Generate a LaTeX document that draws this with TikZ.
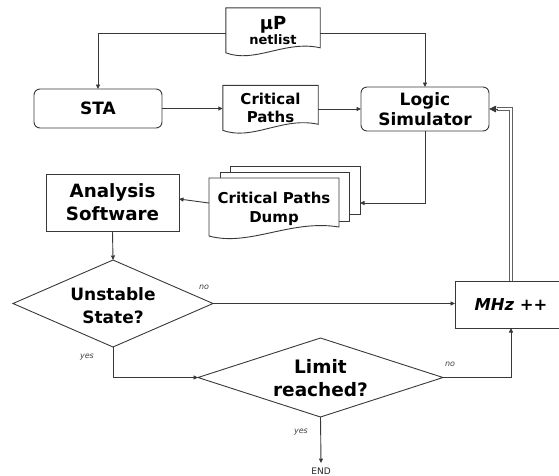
\documentclass[tikz,border=0pt]{standalone}
\usepackage{fontspec}
\setmainfont{DejaVu Sans}
\usetikzlibrary{arrows.meta,calc}
\tikzset{
  ln/.style={draw=black!78, line width=0.9pt},
  arr/.style={ln, -{Triangle[length=4.5pt,width=4pt]}},
  bigarr/.style={ln, -{Triangle[length=7pt,width=6.5pt]}},
  dbl/.style={draw=black!62, line width=0.8pt},
  hidden/.style={inner sep=0pt, outer sep=0pt},
  rbox/.style={ln, rounded corners=6pt, inner sep=0pt, outer sep=0pt, align=center, font=\bfseries},
  sbox/.style={ln, fill=white, inner sep=0pt, outer sep=0pt, align=center, font=\bfseries},
  page/.style={ln, fill=white, inner sep=0pt, outer sep=0pt},
  txt/.style={align=center, font=\bfseries, inner sep=0pt},
  lbl/.style={font=\fontsize{8}{9}\selectfont\itshape, text=black!75, inner sep=0pt},
}
\newcommand\docoutline[4]{% node, left drop, right drop, fill
  \draw[ln, fill=#4] (#1.north west) -- (#1.north east) -- ($(#1.north east)+(0,#3)$)
    .. controls ($(#1.north west)!0.63!(#1.north east)+(0,#3-8)$)
    and ($(#1.north west)!0.31!(#1.north east)+(0,#2+11)$)
    .. ($(#1.north west)+(0,#2)$) -- cycle;}
\begin{document}
\begin{tikzpicture}[x=1pt,y=-1pt]
\useasboundingbox (0,0) rectangle (559,475);
\clip (0,0) rectangle (559,475);

% uP netlist document
\node[txt, minimum width=94pt, minimum height=45pt] (nl) at (273,30.5)
  {\fontsize{18}{18}\selectfont µP\\\fontsize{13}{19}\selectfont netlist};
\docoutline{nl}{45}{40}{none}

% STA
\node[rbox, minimum width=128pt, minimum height=39pt, font=\fontsize{17}{19}\selectfont\bfseries] (sta) at (98,108.5) {STA};

% Critical Paths document
\node[txt, minimum width=95pt, minimum height=45pt, font=\fontsize{15}{17.5}\selectfont\bfseries] (cp) at (270.5,108) {Critical\\Paths};
\docoutline{cp}{45}{39}{none}

% Logic Simulator
\node[rbox, minimum width=128pt, minimum height=44pt, font=\fontsize{17}{19.5}\selectfont\bfseries] (ls) at (425,109) {Logic\\Simulator};

% Critical Paths Dump (stack)
\node[page, minimum width=130pt, minimum height=48pt] (dmp3) at (295,190) {};
\node[page, minimum width=129pt, minimum height=49pt] (dmp2) at (284.5,196.5) {};
\node[hidden, minimum width=130pt, minimum height=58pt] (dmp) at (274,207) {};
\docoutline{dmp}{58}{49}{white}
\node[txt, font=\fontsize{15}{19}\selectfont\bfseries] (dmpt) at (274,208.5) {Critical Paths\\Dump};

% Analysis Software
\node[sbox, minimum width=133pt, minimum height=57pt, font=\fontsize{18.3}{23}\selectfont\bfseries] (as) at (112.5,202.5) {Analysis\\Software};

% Unstable State? diamond
\node[hidden, minimum width=200pt, minimum height=87pt] (us) at (113,303.5) {};
\draw[ln] (us.west) -- (us.north) -- (us.east) -- (us.south) -- cycle;
\node[txt, font=\fontsize{17}{23}\selectfont\bfseries] (ust) at (113,306) {Unstable\\State?};

% Limit reached? diamond
\node[hidden, minimum width=245pt, minimum height=79pt] (lim) at (320.5,377.5) {};
\draw[ln] (lim.west) -- (lim.north) -- (lim.east) -- (lim.south) -- cycle;
\node[txt, font=\fontsize{18.5}{23}\selectfont\bfseries] (limt) at (320.5,378.5) {Limit\\reached?};

% MHz ++
\node[sbox, minimum width=112pt, minimum height=47pt, font=\fontsize{16.4}{19}\selectfont\bfseries\itshape] (mhz) at (511,304.5) {MHz ++};

% END
\node[inner sep=4.5pt, font=\fontsize{9}{10}\selectfont, text=black!85] (endn) at (321,471) {END};

% labels
\node[lbl] (no1) at (204,287) {no};
\node[lbl] (yes1) at (87,357) {yes};
\node[lbl] (no2) at (450,364) {no};
\node[lbl] (yes2) at (301,432) {yes};

% connectors
\draw[arr] ($(nl.west)+(0,2.5)$) -| (sta.north);
\draw[arr] ($(nl.east)+(0,2.5)$) -| (ls.north);
\draw[arr] (sta.east) -- (sta.east -| cp.west);
\draw[arr] (cp.east |- ls.west) -- (ls.west);
\draw[arr] (ls.south) |- ($(dmp3.east)+(0,13)$);
\draw[arr] ($(dmp.west)+(0,-4)$) -- ($(as.east)+(0,-3.5)$);
\draw[arr] (as.south) -- (us.north);
\draw[arr] (us.east) -- (us.east -| mhz.west);
\draw[arr] (us.south) |- (lim.west);
\draw[arr] (lim.east) -| (mhz.south);
\draw[arr] (lim.south) -- (endn.north);
% double return line MHz++ -> Logic Simulator
\draw[dbl] ($(mhz.north)+(-1.3,0)$) |- ($(ls.east)+(8,1.3)$);
\draw[dbl] ($(mhz.north)+(1.3,0)$) |- ($(ls.east)+(8,-1.3)$);
\draw[bigarr] ($(ls.east)+(9,0)$) -- (ls.east);
\end{tikzpicture}
\end{document}
